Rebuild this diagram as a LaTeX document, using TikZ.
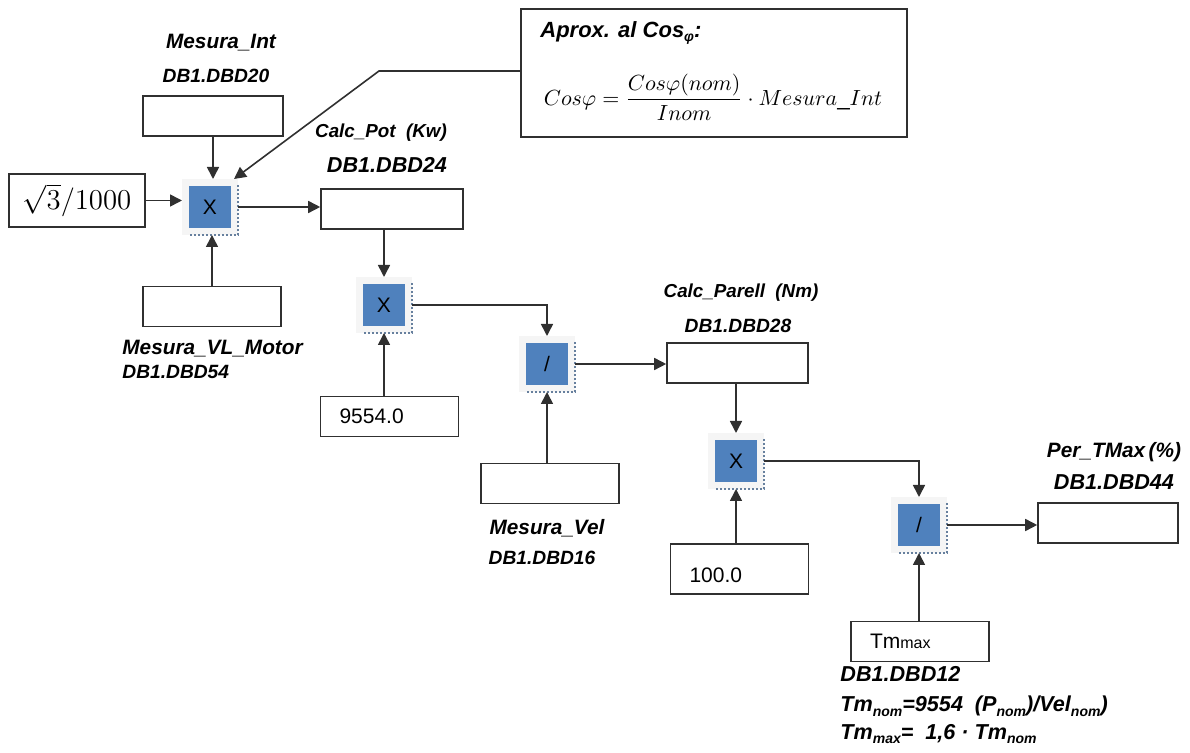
\documentclass[tikz,border=0pt]{standalone}
\usepackage{amsmath}
\usepackage{fontspec}
\setmainfont{Liberation Sans}
\usepackage{tikz}
\usetikzlibrary{arrows.meta, calc}
\definecolor{opBlue}{HTML}{4F81BD}
\definecolor{lineGray}{HTML}{303030}
\newcommand{\lo}[1]{\raisebox{-0.4ex}{\fontsize{7}{7}\selectfont #1}}

\begin{document}
\begin{tikzpicture}[x=0.5pt, y=-0.5pt,
    box/.style={draw=lineGray, line width=0.8pt, minimum width=69pt, minimum height=20pt, inner sep=0pt},
    numbox/.style={box, text width=50pt, inner xsep=9.5pt, align=left, font=\fontsize{10.5}{12}\selectfont},
    op/.style={fill=opBlue, draw=gray!8, line width=3.5pt, minimum size=24.5pt, inner sep=0pt, font=\fontsize{10.5}{12}\selectfont},
    arr/.style={-{Triangle[length=6pt,width=6pt]}, line width=0.8pt, lineGray},
    lbl/.style={font=\fontsize{#1}{#1}\selectfont\bfseries\itshape, inner sep=0pt},
    lbl/.default=10.4]
    \useasboundingbox (0,0) rectangle (1190,753);

    % operator blocks
    \node[op] (m1) at (210,207) {X};
    \node[op] (m2) at (384,305) {X};
    \node[op] (d1) at (547,364) {/};
    \node[op] (m3) at (736,461) {X};
    \node[op] (d2) at (919,525) {/};
    \foreach \b in {m1,m2,d1,m3,d2}
        \draw[gray!50!opBlue, line width=1pt, densely dotted]
            ([yshift=-3pt]\b.north east) -- (\b.south east) -- ([xshift=3pt]\b.south west);

    % data boxes
    \node[box, minimum width=70pt] (int) at (213,116) {};
    \node[box, minimum width=68pt, minimum height=26.5pt, font=\fontsize{13.5}{14}\selectfont] (sq) at (77,200.5) {$\sqrt{3}/1000$};
    \node[box] (vl) at (212,306.5) {};
    \node[box, minimum width=71pt] (pot) at (392,209) {};
    \node[numbox] (k1) at (389.5,416.5) {9554.0};
    \node[box] (vel) at (550,483.5) {};
    \node[box, minimum width=70.5pt] (par) at (737.5,363) {};
    \node[numbox, minimum height=25pt, text height=13.6pt] (k2) at (739.5,569) {100.0};
    \node[box, minimum width=70pt] (tmx) at (1108,523) {};
    \node[numbox] (tm) at (920,641.5) {Tm{\fontsize{8}{8}\selectfont max}};

    % cos phi note
    \node[box, minimum width=193pt, minimum height=64pt] (cbox) at (714,73) {};
    \node[lbl=11, anchor=west] (ctit) at (540,33) {Aprox. al Cos\lo{φ}:};
    \node[inner sep=0pt, font=\fontsize{11.2}{13}\selectfont] (cfor) at (713,97)
        {$Cos\varphi=\dfrac{Cos\varphi(nom)}{Inom}\cdot Mesura\_Int$};
    \coordinate (kink) at (379,71);

    % connectors
    \draw[arr] (int.south) -- (int.south |- m1.north);
    \draw[arr] (sq.east) -- (sq.east -| m1.west);
    \draw[arr] (vl.north) -- (vl.north |- m1.south);
    \draw[arr] (cbox.west |- kink) -- (kink) -- ([xshift=-2pt]m1.north east);
    \draw[arr] (m1.east) -- (m1.east -| pot.west);
    \draw[arr] (pot.south -| m2.north) -- (m2.north);
    \draw[arr] (k1.north -| m2.south) -- (m2.south);
    \draw[arr] (m2.east) -| (d1.north);
    \draw[arr] (vel.north -| d1.south) -- (d1.south);
    \draw[arr] (d1.east) -- (d1.east -| par.west);
    \draw[arr] (par.south -| m3.north) -- (m3.north);
    \draw[arr] (k2.north -| m3.south) -- (m3.south);
    \draw[arr] (m3.east) -| (d2.north);
    \draw[arr] (tm.north -| d2.south) -- (d2.south);
    \draw[arr] (d2.east) -- (d2.east -| tmx.west);

    % labels
    \node[lbl] (lint) at (221,43) {Mesura\_Int};
    \node[lbl=9.6] (lint2) at (216,76) {DB1.DBD20};
    \node[lbl=9.4] (lpot) at (381,133) {Calc\_Pot\ \ (Kw)};
    \node[lbl=10.8] (lpot2) at (387,165) {DB1.DBD24};
    \node[lbl, anchor=west] (lvl) at (122,349) {Mesura\_VL\_Motor};
    \node[lbl=9.6, anchor=west] (lvl2) at (122,372) {DB1.DBD54};
    \node[lbl] (lvel) at (547,528) {Mesura\_Vel};
    \node[lbl=9.6] (lvel2) at (542,558) {DB1.DBD16};
    \node[lbl=9.4] (lpar) at (741,293) {Calc\_Parell\ \ (Nm)};
    \node[lbl=9.6] (lpar2) at (738,326) {DB1.DBD28};
    \node[lbl] (ltmx) at (1114,452) {Per\_TMax\,(\%)};
    \node[lbl=10.8] (ltmx2) at (1114,482) {DB1.DBD44};
    \node[lbl=10.8, anchor=west] (ltm) at (840,674) {DB1.DBD12};
    \node[lbl=10.8, anchor=west] (ltm2) at (840,706) {Tm\lo{nom}=9554\ \ (P\lo{nom})/Vel\lo{nom})};
    \node[lbl=10.8, anchor=west] (ltm3) at (840,734) {Tm\lo{max}=\ \ 1,6 · Tm\lo{nom}};
\end{tikzpicture}
\end{document}
